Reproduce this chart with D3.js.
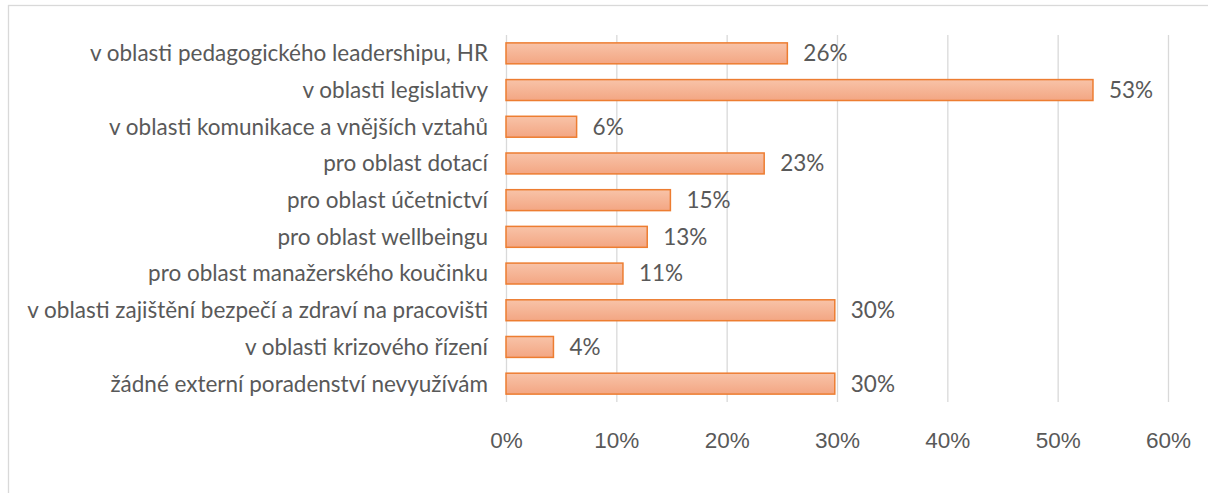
<!DOCTYPE html>
<meta charset="utf-8">
<style>
body { margin: 0; background: #fff; }
svg { display: block; font-family: "Lato", sans-serif; }
.frame { fill: none; stroke: #d9d9d9; stroke-width: 1.3; }
.grid line { stroke: #d9d9d9; stroke-width: 1.3; }
.grid .domain { display: none; }
.x-axis .domain, .x-axis line { display: none; }
.x-axis text, .cat-label, .val-label { fill: #595959; font-size: 22.5px; }
.bar { stroke: #ed7d31; stroke-width: 1.5; }
</style>
<svg width="1208" height="493"></svg>
<script src="https://cdn.jsdelivr.net/npm/d3@7/dist/d3.min.js"></script>
<script>

// categories, top to bottom
var categories = [
  "v oblasti pedagogického leadershipu, HR",
  "v oblasti legislativy",
  "v oblasti komunikace a vnějších vztahů",
  "pro oblast dotací",
  "pro oblast účetnictví",
  "pro oblast wellbeingu",
  "pro oblast manažerského koučinku",
  "v oblasti zajištění bezpečí a zdraví na pracovišti",
  "v oblasti krizového řízení",
  "žádné externí poradenství nevyužívám"
];

// shares in percent
var values = [25.5, 53.2, 6.4, 23.4, 14.9, 12.8, 10.6, 29.8, 4.3, 29.8];

var ticks = [0, 10, 20, 30, 40, 50, 60];

var svg = d3.select("svg");

var x = d3.scaleLinear()
    .domain([0, 60])
    .range([506, 1168]);

var y = d3.scaleBand()
    .domain(categories)
    .range([35, 402])
    .paddingInner(0.43)
    .paddingOuter(0.215);

var defs = svg.append("defs");
var grad = defs.append("linearGradient")
    .attr("id", "barFill")
    .attr("x1", 0).attr("y1", 0).attr("x2", 0).attr("y2", 1);
grad.append("stop").attr("offset", "0%").attr("stop-color", "#f8c3a8");
grad.append("stop").attr("offset", "100%").attr("stop-color", "#f3a683");

// chart frame (runs off the right and bottom edge)
svg.append("rect")
    .attr("class", "frame")
    .attr("x", 8.5)
    .attr("y", 5.5)
    .attr("width", 1300)
    .attr("height", 600);

svg.append("g")
    .attr("class", "grid")
    .attr("transform", "translate(0,402)")
    .call(d3.axisBottom(x).tickValues(ticks).tickSize(-367).tickFormat(""));

svg.append("g")
    .attr("class", "x-axis")
    .attr("transform", "translate(0,429)")
    .call(d3.axisBottom(x).tickValues(ticks).tickSize(0).tickFormat(function(d) { return d + "%"; }));

var data = categories.map(function(c, i) { return {cat: c, val: values[i]}; });

svg.selectAll(".bar")
  .data(data)
  .enter().append("rect")
    .attr("class", "bar")
    .attr("x", x(0))
    .attr("y", function(d) { return y(d.cat); })
    .attr("width", function(d) { return x(d.val) - x(0); })
    .attr("height", y.bandwidth())
    .attr("fill", "url(#barFill)");

svg.selectAll(".val-label")
  .data(data)
  .enter().append("text")
    .attr("class", "val-label")
    .attr("x", function(d) { return x(d.val) + 16; })
    .attr("y", function(d) { return y(d.cat) + y.bandwidth() / 2; })
    .attr("dy", "0.35em")
    .text(function(d) { return Math.round(d.val) + "%"; });

svg.selectAll(".cat-label")
  .data(data)
  .enter().append("text")
    .attr("class", "cat-label")
    .attr("x", 488)
    .attr("y", function(d) { return y(d.cat) + y.bandwidth() / 2; })
    .attr("dy", "0.35em")
    .attr("text-anchor", "end")
    .text(function(d) { return d.cat; });

</script>
